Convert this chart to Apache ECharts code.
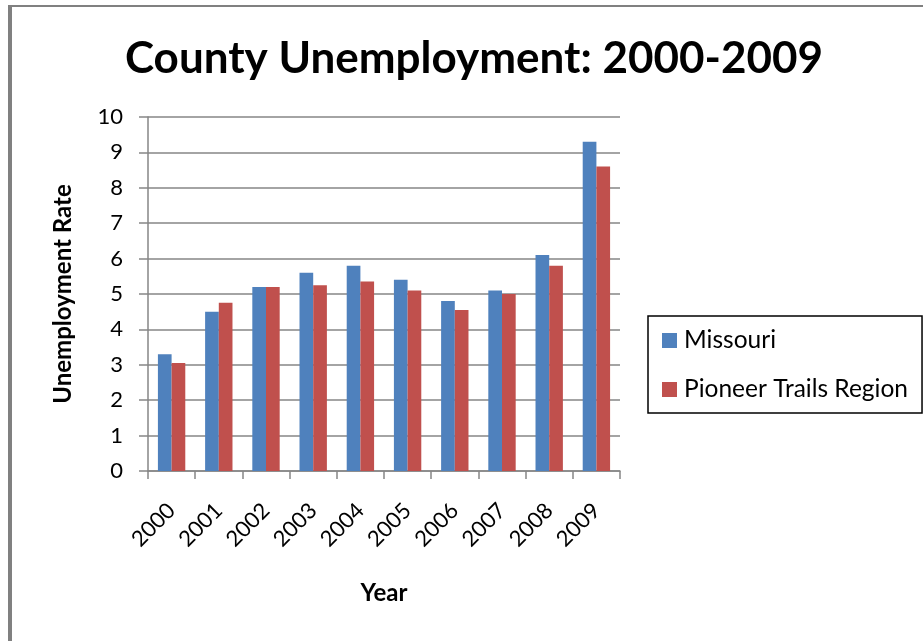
<!DOCTYPE html>
<html>
<head>
<meta charset="utf-8">
<script src="https://cdn.jsdelivr.net/npm/echarts@6/dist/echarts.min.js"></script>
<style>
html,body{margin:0;padding:0;background:#fff;}
#c{width:923px;height:641px;}
</style>
</head>
<body>
<div id="c"></div>
<script>
var years = ['2000','2001','2002','2003','2004','2005','2006','2007','2008','2009'];
var missouri = [3.3, 4.5, 5.2, 5.6, 5.8, 5.4, 4.8, 5.1, 6.1, 9.3];
var pioneer = [3.05, 4.75, 5.2, 5.25, 5.35, 5.1, 4.55, 5.0, 5.8, 8.6];
var yTicks = [0,1,2,3,4,5,6,7,8,9,10];

var chart = echarts.init(document.getElementById('c'), null, {renderer:'canvas'});
var FONT = 'Lato';
chart.setOption({
  backgroundColor: '#ffffff',
  animation: false,
  graphic: [
    {type:'rect', shape:{x:8, y:5, width:4, height:636}, style:{fill:'#808080'}},
    {type:'rect', shape:{x:8, y:5, width:915, height:2}, style:{fill:'#808080'}}
  ],
  title: {
    text: 'County Unemployment: 2000-2009',
    left: 469, top: 32, textAlign: 'center',
    textStyle: {fontFamily: FONT, fontWeight: 'bold', fontSize: 44, color: '#000'}
  },
  legend: {
    orient: 'vertical',
    left: 648, top: 316,
    borderColor: '#000', borderWidth: 1.5,
    padding: [12, 14, 11, 14],
    itemWidth: 15, itemHeight: 15, itemGap: 24,
    icon: 'rect',
    textStyle: {fontFamily: FONT, fontSize: 24.5, color: '#000', padding: [0,0,0,2]},
    data: ['Missouri', 'Pioneer Trails Region']
  },
  grid: {left: 148, right: 303, top: 117, bottom: 170, containLabel: false},
  xAxis: {
    type: 'category',
    data: years,
    name: 'Year',
    nameLocation: 'middle',
    nameGap: 110,
    nameTextStyle: {fontFamily: FONT, fontWeight: 'bold', fontSize: 24, color: '#000'},
    axisLine: {lineStyle: {color: '#868686', width: 1.5}},
    axisTick: {show: true, length: 8, lineStyle: {color: '#868686', width: 1.5}},
    axisLabel: {rotate: 45, fontFamily: FONT, fontSize: 22, color: '#000', margin: 36, interval: 0}
  },
  yAxis: {
    type: 'value',
    min: yTicks[0], max: yTicks[yTicks.length-1], interval: 1,
    name: 'Unemployment Rate',
    nameLocation: 'middle',
    nameGap: 73,
    nameTextStyle: {fontFamily: FONT, fontWeight: 'bold', fontSize: 24, color: '#000'},
    axisLine: {show: true, lineStyle: {color: '#868686', width: 1.5}},
    axisTick: {show: true, length: 9, lineStyle: {color: '#868686', width: 1.5}},
    axisLabel: {fontFamily: FONT, fontSize: 22, color: '#000', margin: 25},
    splitLine: {lineStyle: {color: '#868686', width: 1.5}}
  },
  series: [
    {name: 'Missouri', type: 'bar', data: missouri, barGap: '0%', barCategoryGap: '42%',
     itemStyle: {color: '#4F81BD'}},
    {name: 'Pioneer Trails Region', type: 'bar', data: pioneer, barGap: '0%', barCategoryGap: '42%',
     itemStyle: {color: '#C0504D'}}
  ]
});
</script>
</body>
</html>
